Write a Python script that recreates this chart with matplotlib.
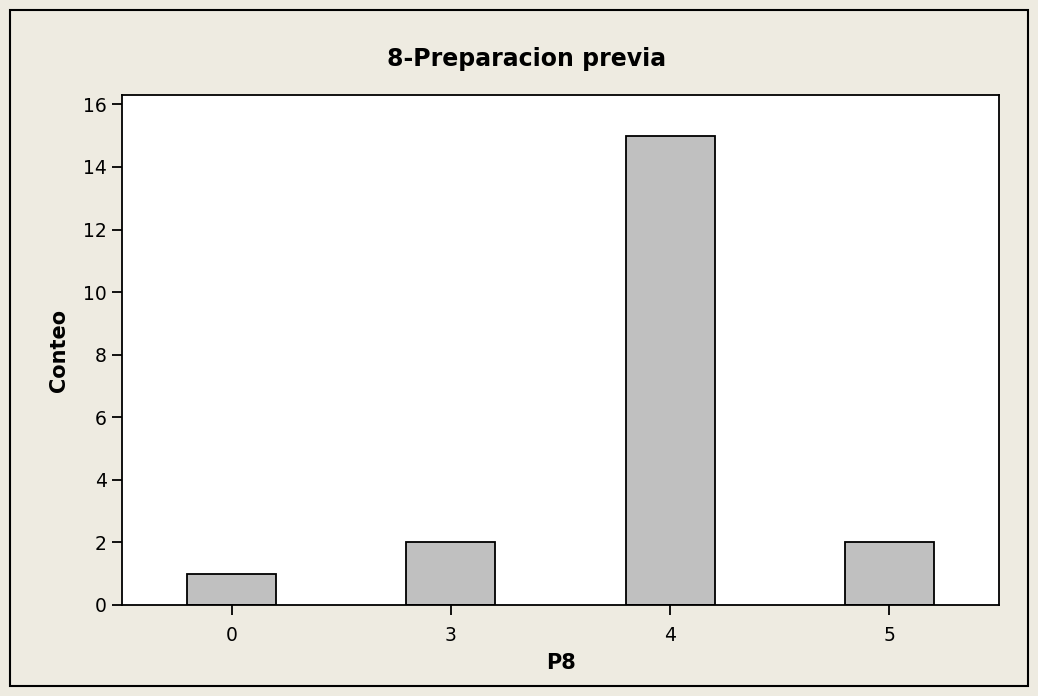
import numpy as np
import matplotlib.pyplot as plt
from matplotlib.patches import Rectangle

categories = ['0', '3', '4', '5']
counts = [1, 2, 15, 2]

bg = '#EEEBE1'

fig = plt.figure(figsize=(10.38, 6.96), dpi=100, facecolor=bg)
# outer frame
fig.patches.append(Rectangle((10 / 1038, 10 / 696), 1018 / 1038, 676 / 696,
                             transform=fig.transFigure, fill=False,
                             edgecolor='black', linewidth=1.5))

ax = fig.add_axes([122 / 1038, 1 - 605 / 696, 877 / 1038, 510 / 696])
ax.set_facecolor('white')

x = np.arange(len(categories))
ax.bar(x, counts, width=0.405, color='#C0C0C0', edgecolor='black', linewidth=1.3)

ax.set_xlim(-0.5, 3.5)
ax.set_ylim(0, 16.3)
ax.set_xticks(x)
ax.set_xticklabels(categories)
ax.set_yticks(np.arange(0, 17, 2))

ax.tick_params(direction='out', length=7, width=1.3, labelsize=13.5, pad=4)
ax.tick_params(axis='x', pad=8)
for s in ax.spines.values():
    s.set_linewidth(1.3)

fig.text(527 / 1038, 1 - 59 / 696, '8-Preparacion previa', fontsize=17,
         fontweight='bold', ha='center', va='center')
ax.set_xlabel('P8', fontsize=15, fontweight='bold', labelpad=6)
ax.set_ylabel('Conteo', fontsize=15, fontweight='bold', labelpad=10)

fig.savefig('out.png', dpi=100, facecolor=bg)
